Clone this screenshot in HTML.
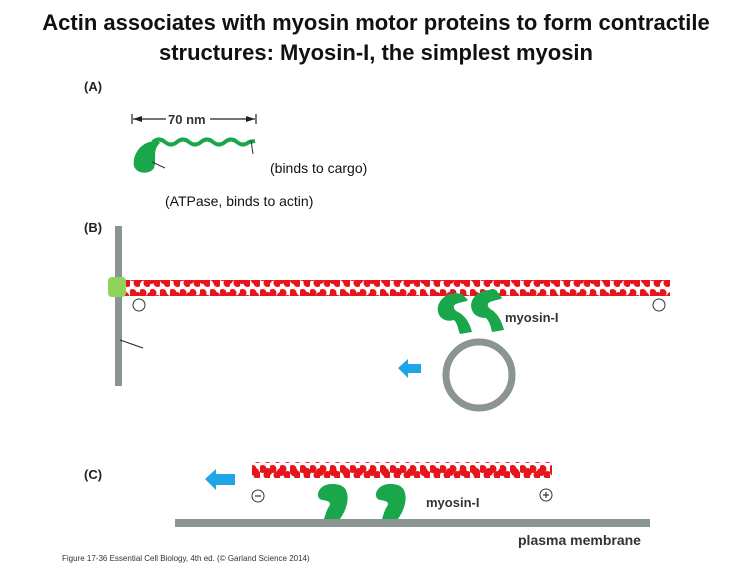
<!DOCTYPE html>
<html><head><meta charset="utf-8"><style>
html,body{margin:0;padding:0;background:#fff;width:753px;height:579px;overflow:hidden}
svg{display:block}
text{font-family:"Liberation Sans",sans-serif}
</style></head><body>
<svg width="753" height="579" viewBox="0 0 753 579">
<defs>
<pattern id="act" x="0" y="0" width="10" height="16" patternUnits="userSpaceOnUse">
<circle cx="2.5" cy="5" r="4" fill="#e8141c"/>
<circle cx="7.5" cy="11" r="4" fill="#e8141c"/>
</pattern>
<pattern id="act2" x="4" y="0" width="13" height="16" patternUnits="userSpaceOnUse">
<circle cx="4" cy="8" r="4" fill="#e8141c"/>
</pattern>
</defs>
<text x="376" y="30" text-anchor="middle" font-size="22" font-weight="bold" fill="#111">Actin associates with myosin motor proteins to form contractile</text>
<text x="376" y="60" text-anchor="middle" font-size="22" font-weight="bold" fill="#111">structures: Myosin-I, the simplest myosin</text>

<!-- A -->
<text x="84" y="91" font-size="13" font-weight="bold" fill="#222">(A)</text>
<line x1="132" y1="114" x2="132" y2="124" stroke="#222" stroke-width="1.2"/>
<line x1="256" y1="114" x2="256" y2="124" stroke="#222" stroke-width="1.2"/>
<line x1="133" y1="119" x2="166" y2="119" stroke="#222" stroke-width="1.2"/>
<line x1="210" y1="119" x2="255" y2="119" stroke="#222" stroke-width="1.2"/>
<polygon points="133,119 142,116 142,122" fill="#222"/>
<polygon points="255,119 246,116 246,122" fill="#222"/>
<text x="168" y="124" font-size="13" font-weight="bold" fill="#333">70 nm</text>
<path d="M153,142 q6,-5 12,0 t12,0 t12,0 t12,0 t12,0 t12,0 t12,0 t12,0 l6,-1" stroke="#1aa64a" stroke-width="4" fill="none"/>
<path d="M158,141 C140,140 132,156 134,166 C136,174 150,175 154,168 C157,160 152,150 160,143 Z" fill="#1aa64a"/>
<line x1="152" y1="162" x2="165" y2="168" stroke="#333" stroke-width="1"/>
<line x1="251" y1="140" x2="253" y2="154" stroke="#333" stroke-width="1"/>
<text x="270" y="173" font-size="14" fill="#111">(binds to cargo)</text>
<text x="165" y="206" font-size="14" fill="#111">(ATPase, binds to actin)</text>

<!-- B -->
<text x="84" y="232" font-size="13" font-weight="bold" fill="#222">(B)</text>
<rect x="115" y="226" width="7" height="160" fill="#8a9490"/>
<line x1="120" y1="340" x2="143" y2="348" stroke="#222" stroke-width="1"/>
<rect x="122" y="280" width="548" height="16" fill="url(#act)"/>
<rect x="122" y="280" width="548" height="16" fill="url(#act2)"/>
<rect x="108" y="277" width="18" height="20" rx="4" fill="#8ed35a"/>
<circle cx="139" cy="305" r="6" fill="#fff" stroke="#333" stroke-width="1"/>
<circle cx="659" cy="305" r="6" fill="#fff" stroke="#333" stroke-width="1"/>
<circle cx="479" cy="375" r="33" fill="none" stroke="#8a9490" stroke-width="7"/>
<path d="M462,294 C446,290 436,302 438,312 C440,320 448,322 454,320 C458,324 458,330 460,334 L472,332 C470,324 466,316 458,312 C454,310 452,306 456,304 C460,302 466,302 468,300 Z" fill="#1aa64a"/>
<path d="M496,290 C478,288 468,300 472,310 C474,316 480,318 486,318 C490,322 491,328 492,332 L504,330 C502,322 498,314 492,310 C488,308 486,304 490,302 C494,300 500,300 502,298 Z" fill="#1aa64a"/>
<text x="505" y="322" font-size="13" font-weight="bold" fill="#333">myosin-I</text>
<polygon points="398,368 408,359 408,364 421,364 421,373 408,373 408,378" fill="#1ea6e8"/>

<!-- C -->
<text x="84" y="479" font-size="13" font-weight="bold" fill="#222">(C)</text>
<rect x="252" y="462" width="300" height="16" fill="url(#act)"/>
<rect x="252" y="462" width="300" height="16" fill="url(#act2)"/>
<polygon points="205,479 216,469 216,474 235,474 235,485 216,485 216,490" fill="#1ea6e8"/>
<circle cx="258" cy="496" r="6" fill="#fff" stroke="#333" stroke-width="1"/>
<line x1="255" y1="496" x2="261" y2="496" stroke="#333" stroke-width="1.2"/>
<circle cx="546" cy="495" r="6" fill="#fff" stroke="#333" stroke-width="1"/>
<line x1="543" y1="495" x2="549" y2="495" stroke="#333" stroke-width="1.2"/>
<line x1="546" y1="492" x2="546" y2="498" stroke="#333" stroke-width="1.2"/>
<path d="M332,484 C318,484 314,498 322,500 C330,501 332,503 328,508 C326,512 325,516 324,519 L340,519 C346,510 350,500 346,490 C343,485 338,484 332,484 Z" fill="#1aa64a"/>
<path d="M390,484 C376,484 372,498 380,500 C388,501 390,503 386,508 C384,512 383,516 382,519 L398,519 C404,510 408,500 404,490 C401,485 396,484 390,484 Z" fill="#1aa64a"/>
<rect x="175" y="519" width="475" height="8" fill="#8a9490"/>
<text x="426" y="507" font-size="13" font-weight="bold" fill="#333">myosin-I</text>
<text x="518" y="545" font-size="14" font-weight="bold" fill="#333">plasma membrane</text>
<text x="62" y="561" font-size="8" fill="#333">Figure 17-36 Essential Cell Biology, 4th ed. (© Garland Science 2014)</text>
</svg>
</body></html>
